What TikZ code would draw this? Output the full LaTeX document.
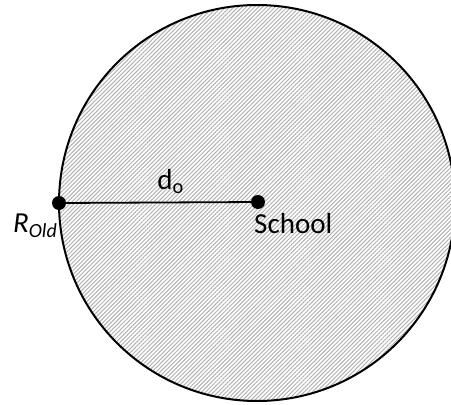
\documentclass[tikz,border=0pt]{standalone}
\usepackage{fontspec}
\setmainfont{Carlito}
\usepackage{tikz}
\usetikzlibrary{patterns.meta,positioning}

\begin{document}
\begin{tikzpicture}[x=1pt, y=-1pt,
  hatch/.style={pattern={Lines[angle=45, distance=2.9pt, line width=1pt]}, pattern color=gray!60},
  dot/.style={circle, fill=black, inner sep=0pt, minimum size=14pt},
  lbl/.style={font=\fontsize{29}{31}\selectfont, inner sep=0pt}]
\useasboundingbox (0,0) rectangle (451,405);
\begin{scope}
\clip (0,0) rectangle (451,405);
\fill[white] (257,203) circle (198);
\fill[hatch] (257,203) circle (198);
\draw[line width=2pt] (257,203) circle (198);
\end{scope}
\node[dot] (rold) at (59,203) {};
\node[dot] (school) at (258,202) {};
\draw[line width=1.8pt] (rold) -- node[lbl, above=8pt, xshift=12pt] {d\textsubscript{o}} (school);
\node[lbl, anchor=base west] (schoollbl) at (254,233) {School};
\node[lbl, anchor=base east] (roldlbl) at (57,232) {\textit{R}{\fontsize{20}{22}\selectfont\raisebox{-5pt}{\textit{Old}}}};
\end{tikzpicture}
\end{document}
